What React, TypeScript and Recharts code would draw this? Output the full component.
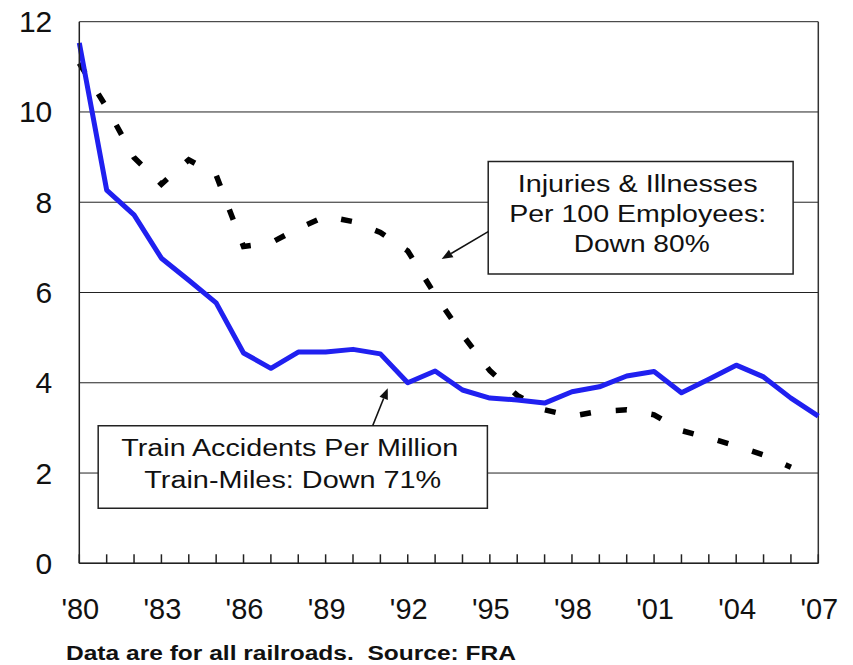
import React from "react";
import {
  LineChart,
  Line,
  XAxis,
  YAxis,
  CartesianGrid,
  ReferenceArea,
  ReferenceLine,
} from "recharts";

const years = [
  1980, 1981, 1982, 1983, 1984, 1985, 1986, 1987, 1988, 1989, 1990, 1991, 1992, 1993,
  1994, 1995, 1996, 1997, 1998, 1999, 2000, 2001, 2002, 2003, 2004, 2005, 2006, 2007,
];
const trainAccidents = [
  11.53, 8.27, 7.72, 6.76, 6.27, 5.77, 4.66, 4.32, 4.68, 4.68, 4.74, 4.64, 4.0, 4.26,
  3.84, 3.66, 3.62, 3.55, 3.8, 3.91, 4.15, 4.25, 3.78, 4.08, 4.39, 4.13, 3.66, 3.26,
];
const injuries: (number | null)[] = [
  11.08, 10.1, 8.99, 8.4, 8.94, 8.6, 7.02, 7.1, 7.42, 7.69, 7.57, 7.33, 6.92, 5.95,
  5.06, 4.27, 3.72, 3.4, 3.26, 3.37, 3.4, 3.29, 2.94, 2.78, 2.6, 2.4, 2.13, null,
];
const yTicks = [0, 2, 4, 6, 8, 10, 12];
const xLabelYears = [1980, 1983, 1986, 1989, 1992, 1995, 1998, 2001, 2004, 2007];
const xLabels = ["'80", "'83", "'86", "'89", "'92", "'95", "'98", "'01", "'04", "'07"];
const injuriesText = ["Injuries & Illnesses", "Per 100 Employees:", "Down 80%"];
const trainText = ["Train Accidents Per Million", "Train-Miles: Down 71%"];
const footerText = "Data are for all railroads.  Source: FRA";

const data = years.map((year, i) => ({
  year,
  accidents: trainAccidents[i],
  injuries: injuries[i],
}));

const FONT = "'Liberation Sans', Arial, sans-serif";
const AXIS_BOTTOM = 563.3;

const XTick = (props: any) => {
  const { x, payload } = props;
  const idx = xLabelYears.indexOf(payload.value);
  if (idx < 0) return <g />;
  return (
    <text
      x={x + 1}
      y={AXIS_BOTTOM + 56}
      textAnchor="middle"
      fontFamily={FONT}
      fontSize={29}
      fill="#111"
    >
      {xLabels[idx]}
    </text>
  );
};

const YTick = (props: any) => {
  const { x, y, payload } = props;
  return (
    <text
      x={x - 27}
      y={y + 10.5}
      textAnchor="end"
      fontFamily={FONT}
      fontSize={30}
      fill="#111"
    >
      {payload.value}
    </text>
  );
};

const makeBoxLabel =
  (lines: string[], widths: number[], offsets: number[], dx: number[]) =>
  (props: any) => {
    const vb = props.viewBox || {};
    const cx = vb.x + vb.width / 2;
    return (
      <g>
        {lines.map((t, i) => (
          <text
            key={i}
            x={cx + dx[i] - widths[i] / 2}
            y={vb.y + offsets[i]}
            textLength={widths[i]}
            lengthAdjust="spacingAndGlyphs"
            fontFamily={FONT}
            fontSize={23.5}
            fill="#111"
          >
            {t}
          </text>
        ))}
      </g>
    );
  };

const ArrowShape = (props: any) => {
  const { x1, y1, x2, y2 } = props;
  const dx = x2 - x1;
  const dy = y2 - y1;
  const len = Math.sqrt(dx * dx + dy * dy) || 1;
  const ux = dx / len;
  const uy = dy / len;
  const hl = 11;
  const hw = 4.5;
  const bx = x2 - ux * hl;
  const by = y2 - uy * hl;
  const px = -uy;
  const py = ux;
  return (
    <g>
      <line x1={x1} y1={y1} x2={bx} y2={by} stroke="#111" strokeWidth={1.5} />
      <polygon
        points={`${x2},${y2} ${bx + px * hw},${by + py * hw} ${bx - px * hw},${by - py * hw}`}
        fill="#111"
      />
    </g>
  );
};

const TickMark = (props: any) => {
  const { x1, y1 } = props;
  return <line x1={x1} y1={y1} x2={x1} y2={y1 - 9} stroke="#222" strokeWidth={1.5} />;
};

export default function App() {
  return (
    <div style={{ position: "absolute", left: 0, top: 0, width: 853, height: 665, background: "#fff" }}>
      <LineChart
        width={853}
        height={665}
        data={data}
        margin={{ top: 21.7, right: 34.7, bottom: 41.7, left: 19.3 }}
      >
        <CartesianGrid horizontal={true} vertical={false} stroke="#222" strokeWidth={1} />
        <XAxis
          dataKey="year"
          type="number"
          domain={[1980, 2007]}
          ticks={years}
          interval={0}
          height={60}
          tickSize={0}
          tickMargin={0}
          tickLine={false}
          tick={<XTick />}
          axisLine={{ stroke: "#222", strokeWidth: 1.5 }}
        />
        <YAxis
          domain={[0, 12]}
          ticks={yTicks}
          interval={0}
          width={60}
          tickSize={0}
          tickMargin={0}
          tickLine={false}
          tick={<YTick />}
          axisLine={{ stroke: "#222", strokeWidth: 1.5 }}
        />
        <ReferenceLine x={2007} stroke="#333" strokeWidth={1.5} />
        {years.map((yr) => (
          <ReferenceLine
            key={yr}
            segment={[
              { x: yr, y: 0 },
              { x: yr, y: 0.2 },
            ]}
            shape={TickMark}
          />
        ))}
        <ReferenceArea
          x1={1994.94}
          x2={2006.08}
          y1={6.41}
          y2={8.9}
          fill="#fff"
          fillOpacity={1}
          stroke="#222"
          strokeWidth={1.5}
          label={makeBoxLabel(injuriesText, [240, 257, 136], [30, 60, 90], [-3, -3, 1])}
        />
        <ReferenceArea
          x1={1980.69}
          x2={1994.91}
          y1={1.22}
          y2={3.05}
          fill="#fff"
          fillOpacity={1}
          stroke="#222"
          strokeWidth={1.5}
          label={makeBoxLabel(trainText, [337, 297], [30.5, 62.6], [-3, 0])}
        />
        <ReferenceLine
          segment={[
            { x: 1994.94, y: 7.35 },
            { x: 1993.24, y: 6.74 },
          ]}
          shape={ArrowShape}
        />
        <ReferenceLine
          segment={[
            { x: 1990.72, y: 3.05 },
            { x: 1991.27, y: 3.88 },
          ]}
          shape={ArrowShape}
        />
        <Line
          dataKey="injuries"
          stroke="#000"
          strokeWidth={5.5}
          strokeDasharray="11 25"
          dot={false}
          connectNulls={false}
          isAnimationActive={false}
        />
        <Line
          dataKey="accidents"
          stroke="#2020f0"
          strokeWidth={5}
          dot={false}
          strokeLinejoin="round"
          isAnimationActive={false}
        />
      </LineChart>
      <svg
        width={853}
        height={665}
        style={{ position: "absolute", left: 0, top: 0, pointerEvents: "none" }}
      >
        <text
          x={66}
          y={660}
          textLength={450}
          lengthAdjust="spacingAndGlyphs"
          fontFamily={FONT}
          fontSize={20}
          fontWeight="bold"
          fill="#111"
          style={{ whiteSpace: "pre" }}
        >
          {footerText}
        </text>
      </svg>
    </div>
  );
}
